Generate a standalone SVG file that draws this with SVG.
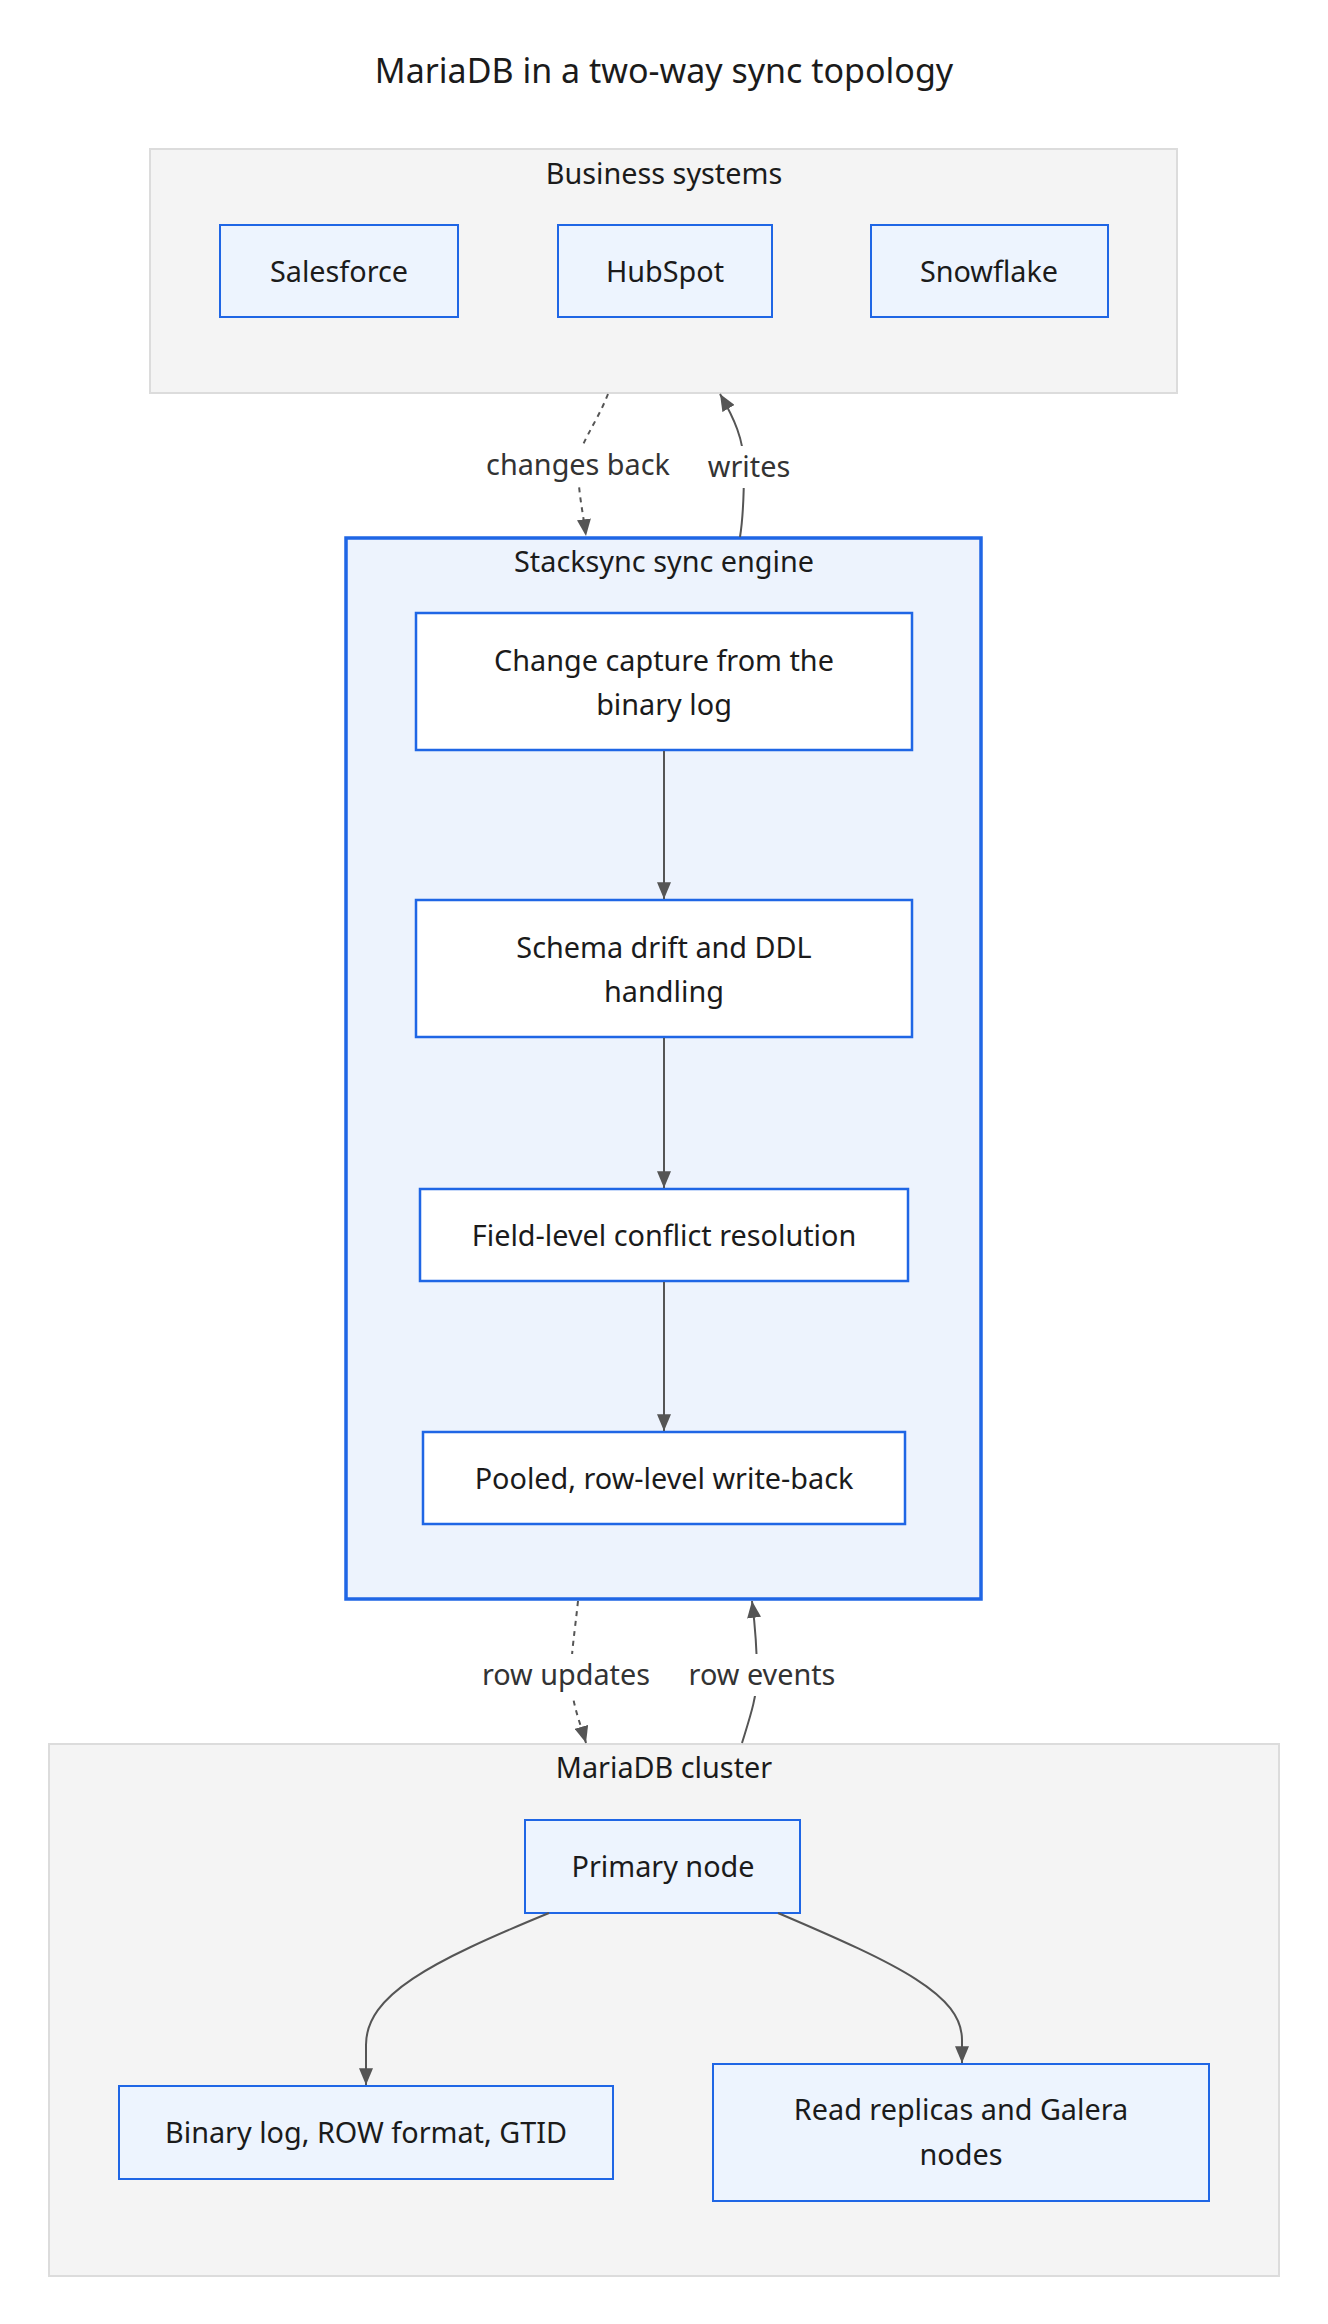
<svg xmlns="http://www.w3.org/2000/svg" width="1328" height="2324" viewBox="0 0 1328 2324">
<style>
text{font-family:"Noto Sans","Open Sans","DejaVu Sans",sans-serif;fill:#1b1b1b;text-anchor:middle;dominant-baseline:central;font-size:28.8px}
.title{font-size:34px}
.cluster{fill:#f4f4f4;stroke:#dcdcdc;stroke-width:2}
.engine{fill:#edf3fd;stroke:#1f66e5;stroke-width:3.5}
.node{fill:#edf4fe;stroke:#1f66e5;stroke-width:2}
.inner{fill:#ffffff;stroke:#1f66e5;stroke-width:2.5}
.edge{fill:none;stroke:#555555;stroke-width:2}
.dash{stroke-dasharray:5 5}
.elabel{fill:#333333}
.lbg{fill:#ffffff}
</style>
<defs>
<marker id="arr" viewBox="0 0 12 10" refX="12" refY="5" markerWidth="17" markerHeight="14" markerUnits="userSpaceOnUse" orient="auto">
<path d="M0,0 L12,5 L0,10 z" fill="#555555"/>
</marker>
</defs>
<rect width="1328" height="2324" fill="#ffffff"/>
<text class="title" x="664" y="70">MariaDB in a two-way sync topology</text>

<g id="business-systems">
<rect class="cluster" x="150" y="149" width="1027" height="244"/>
<text x="664" y="172">Business systems</text>
</g>
<g id="salesforce">
<rect class="node" x="220" y="225" width="238" height="92"/>
<text x="339" y="270.5">Salesforce</text>
</g>
<g id="hubspot">
<rect class="node" x="558" y="225" width="214" height="92"/>
<text x="665" y="270.5">HubSpot</text>
</g>
<g id="snowflake">
<rect class="node" x="871" y="225" width="237" height="92"/>
<text x="989" y="270.5">Snowflake</text>
</g>

<g id="sync-engine">
<rect class="engine" x="346" y="538" width="635" height="1061"/>
<text x="664" y="560.5">Stacksync sync engine</text>
</g>
<g id="change-capture">
<rect class="inner" x="416" y="613" width="496" height="137"/>
<text x="664" y="659.5">Change capture from the</text>
<text x="664" y="703.5">binary log</text>
</g>
<g id="schema-drift">
<rect class="inner" x="416" y="900" width="496" height="137"/>
<text x="664" y="946.5">Schema drift and DDL</text>
<text x="664" y="990.5">handling</text>
</g>
<g id="conflict-resolution">
<rect class="inner" x="420" y="1189" width="488" height="92"/>
<text x="664" y="1234.5">Field-level conflict resolution</text>
</g>
<g id="write-back">
<rect class="inner" x="423" y="1432" width="482" height="92"/>
<text x="664" y="1477.5">Pooled, row-level write-back</text>
</g>

<g id="mariadb-cluster">
<rect class="cluster" x="49" y="1744" width="1230" height="532"/>
<text x="664" y="1766.5">MariaDB cluster</text>
</g>
<g id="primary-node">
<rect class="node" x="525" y="1820" width="275" height="93"/>
<text x="663" y="1865.5">Primary node</text>
</g>
<g id="binary-log">
<rect class="node" x="119" y="2086" width="494" height="93"/>
<text x="366" y="2131.5">Binary log, ROW format, GTID</text>
</g>
<g id="read-replicas">
<rect class="node" x="713" y="2064" width="496" height="137"/>
<text x="961" y="2108.5">Read replicas and Galera</text>
<text x="961" y="2153.5">nodes</text>
</g>

<g id="connectors">
<path class="edge dash" d="M608,394 C596,425 578,445 578,465 C578,492 583,512 586,536" marker-end="url(#arr)"/>
<path class="edge" d="M740,537 C744,512 744,488 744,466 C744,440 734,418 720,394" marker-end="url(#arr)"/>
<path class="edge" d="M664,751 L664,899" marker-end="url(#arr)"/>
<path class="edge" d="M664,1038 L664,1188" marker-end="url(#arr)"/>
<path class="edge" d="M664,1282 L664,1431" marker-end="url(#arr)"/>
<path class="edge dash" d="M578,1601 C575,1630 571,1655 571,1675 C571,1702 580,1722 586,1743" marker-end="url(#arr)"/>
<path class="edge" d="M742,1743 C750,1717 757,1697 757,1675 C757,1650 755,1625 752,1601" marker-end="url(#arr)"/>
<path class="edge" d="M549,1913 C430,1962 366,1995 366,2045 L366,2085" marker-end="url(#arr)"/>
<path class="edge" d="M778,1913 C900,1965 962,1995 962,2040 L962,2063" marker-end="url(#arr)"/>
<rect class="lbg" x="486" y="444" width="184" height="42"/>
<text class="elabel" x="578" y="463.5">changes back</text>
<rect class="lbg" x="705" y="446" width="86" height="42"/>
<text class="elabel" x="749" y="465.5">writes</text>
<rect class="lbg" x="480" y="1654" width="172" height="42"/>
<text class="elabel" x="566" y="1673.5">row updates</text>
<rect class="lbg" x="685" y="1654" width="154" height="42"/>
<text class="elabel" x="762" y="1673.5">row events</text>
</g>
</svg>
